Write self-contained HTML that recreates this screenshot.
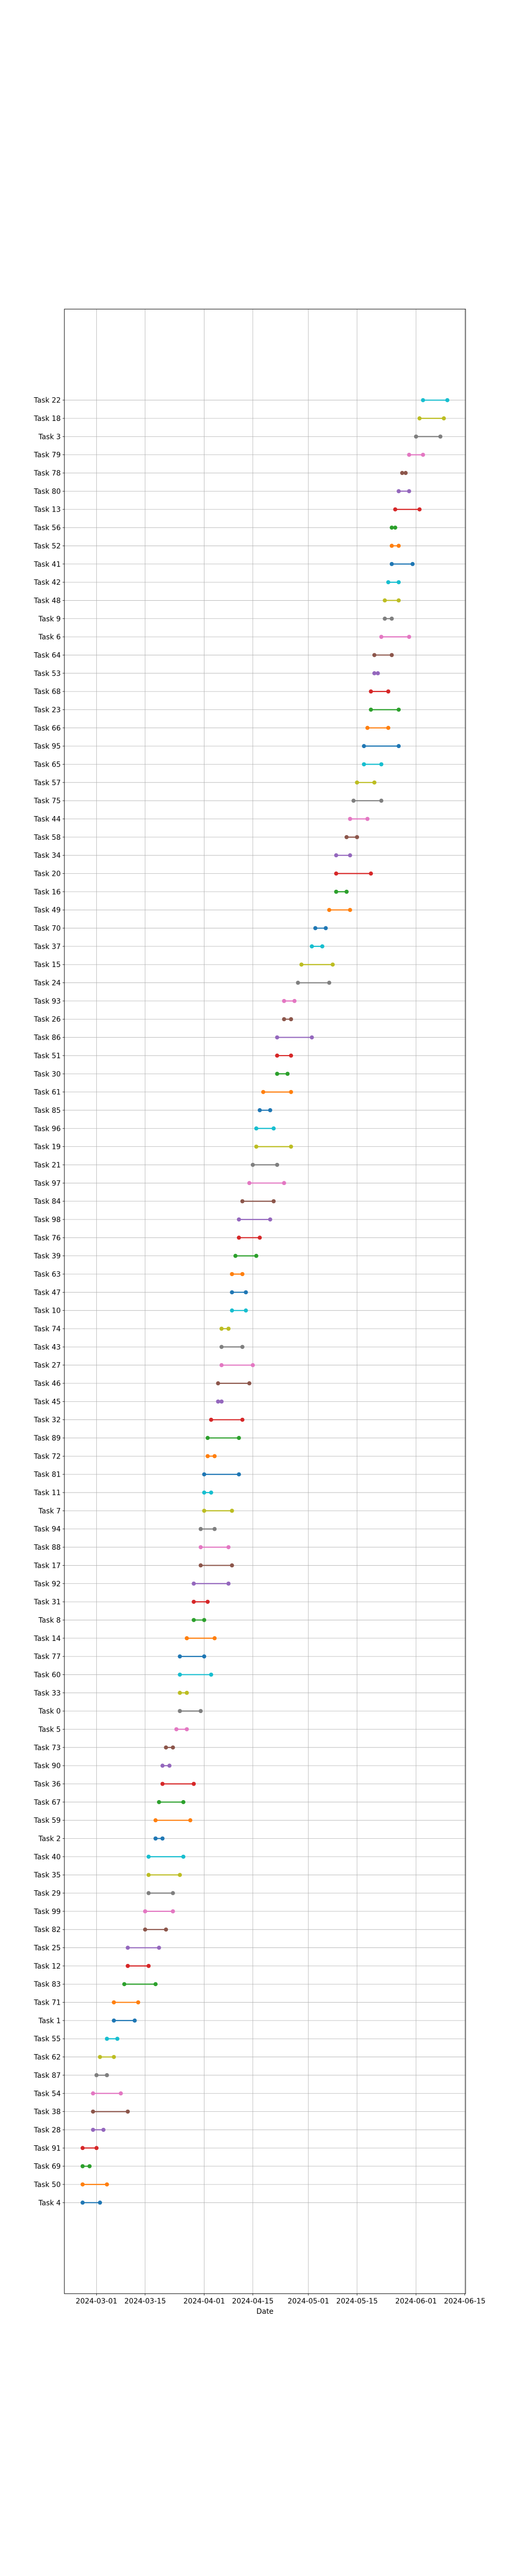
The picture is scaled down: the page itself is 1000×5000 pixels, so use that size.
<!DOCTYPE html>
<html>
<head>
<meta charset="utf-8">
<style>
html,body{margin:0;padding:0;background:#fff;}
svg{display:block;}
text{font-family:"DejaVu Sans","Liberation Sans",sans-serif;font-size:13.9px;fill:#000;}
</style>
</head>
<body>
<svg id="chart" width="1000" height="5000" viewBox="0 0 1000 5000"></svg>
<script>
const taskNames = ["Task 4","Task 50","Task 69","Task 91","Task 28","Task 38","Task 54","Task 87","Task 62","Task 55","Task 1","Task 71","Task 83","Task 12","Task 25","Task 82","Task 99","Task 29","Task 35","Task 40","Task 2","Task 59","Task 67","Task 36","Task 90","Task 73","Task 5","Task 0","Task 33","Task 60","Task 77","Task 14","Task 8","Task 31","Task 92","Task 17","Task 88","Task 94","Task 7","Task 11","Task 81","Task 72","Task 89","Task 32","Task 45","Task 46","Task 27","Task 43","Task 74","Task 10","Task 47","Task 63","Task 39","Task 76","Task 98","Task 84","Task 97","Task 21","Task 19","Task 96","Task 85","Task 61","Task 30","Task 51","Task 86","Task 26","Task 93","Task 24","Task 15","Task 37","Task 70","Task 49","Task 16","Task 20","Task 34","Task 58","Task 44","Task 75","Task 57","Task 65","Task 95","Task 66","Task 23","Task 68","Task 53","Task 64","Task 6","Task 9","Task 48","Task 42","Task 41","Task 52","Task 56","Task 13","Task 80","Task 78","Task 79","Task 3","Task 18","Task 22"];
const startDates = ["2024-02-26","2024-02-26","2024-02-26","2024-02-26","2024-02-29","2024-02-29","2024-02-29","2024-03-01","2024-03-02","2024-03-04","2024-03-06","2024-03-06","2024-03-09","2024-03-10","2024-03-10","2024-03-15","2024-03-15","2024-03-16","2024-03-16","2024-03-16","2024-03-18","2024-03-18","2024-03-19","2024-03-20","2024-03-20","2024-03-21","2024-03-24","2024-03-25","2024-03-25","2024-03-25","2024-03-25","2024-03-27","2024-03-29","2024-03-29","2024-03-29","2024-03-31","2024-03-31","2024-03-31","2024-04-01","2024-04-01","2024-04-01","2024-04-02","2024-04-02","2024-04-03","2024-04-05","2024-04-05","2024-04-06","2024-04-06","2024-04-06","2024-04-09","2024-04-09","2024-04-09","2024-04-10","2024-04-11","2024-04-11","2024-04-12","2024-04-14","2024-04-15","2024-04-16","2024-04-16","2024-04-17","2024-04-18","2024-04-22","2024-04-22","2024-04-22","2024-04-24","2024-04-24","2024-04-28","2024-04-29","2024-05-02","2024-05-03","2024-05-07","2024-05-09","2024-05-09","2024-05-09","2024-05-12","2024-05-13","2024-05-14","2024-05-15","2024-05-17","2024-05-17","2024-05-18","2024-05-19","2024-05-19","2024-05-20","2024-05-20","2024-05-22","2024-05-23","2024-05-23","2024-05-24","2024-05-25","2024-05-25","2024-05-25","2024-05-26","2024-05-27","2024-05-28","2024-05-30","2024-06-01","2024-06-02","2024-06-03"];
const endDates = ["2024-03-02","2024-03-04","2024-02-28","2024-03-01","2024-03-03","2024-03-10","2024-03-08","2024-03-04","2024-03-06","2024-03-07","2024-03-12","2024-03-13","2024-03-18","2024-03-16","2024-03-19","2024-03-21","2024-03-23","2024-03-23","2024-03-25","2024-03-26","2024-03-20","2024-03-28","2024-03-26","2024-03-29","2024-03-22","2024-03-23","2024-03-27","2024-03-31","2024-03-27","2024-04-03","2024-04-01","2024-04-04","2024-04-01","2024-04-02","2024-04-08","2024-04-09","2024-04-08","2024-04-04","2024-04-09","2024-04-03","2024-04-11","2024-04-04","2024-04-11","2024-04-12","2024-04-06","2024-04-14","2024-04-15","2024-04-12","2024-04-08","2024-04-13","2024-04-13","2024-04-12","2024-04-16","2024-04-17","2024-04-20","2024-04-21","2024-04-24","2024-04-22","2024-04-26","2024-04-21","2024-04-20","2024-04-26","2024-04-25","2024-04-26","2024-05-02","2024-04-26","2024-04-27","2024-05-07","2024-05-08","2024-05-05","2024-05-06","2024-05-13","2024-05-12","2024-05-19","2024-05-13","2024-05-15","2024-05-18","2024-05-22","2024-05-20","2024-05-22","2024-05-27","2024-05-24","2024-05-27","2024-05-24","2024-05-21","2024-05-25","2024-05-30","2024-05-25","2024-05-27","2024-05-27","2024-05-31","2024-05-27","2024-05-26","2024-06-02","2024-05-30","2024-05-29","2024-06-03","2024-06-08","2024-06-09","2024-06-10"];
const xTickLabels = ["2024-03-01","2024-03-15","2024-04-01","2024-04-15","2024-05-01","2024-05-15","2024-06-01","2024-06-15"];
const palette = ["#1f77b4","#ff7f0e","#2ca02c","#d62728","#9467bd","#8c564b","#e377c2","#7f7f7f","#bcbd22","#17becf"];

const NS = "http://www.w3.org/2000/svg";
const svg = document.getElementById("chart");
const L = 125, R = 904, T = 600, B = 4452;
const DAY = 86400000;
function toDay(s){ const p = s.split("-").map(Number); return Date.UTC(p[0], p[1]-1, p[2]) / DAY; }
const allDays = startDates.map(toDay).concat(endDates.map(toDay));
const dmin = Math.min.apply(null, allDays), dmax = Math.max.apply(null, allDays);
const span = dmax - dmin;
const x0 = dmin - 0.05*span, x1 = dmax + 0.05*span;
function xScale(s){ return L + (toDay(s) - x0) / (x1 - x0) * (R - L); }
const yMin = -5, yMax = taskNames.length + 4;
function yScale(i){ return B - (i - yMin) / (yMax - yMin) * (B - T); }
function el(tag, attrs, parent){ const e = document.createElementNS(NS, tag); for (const k in attrs) e.setAttribute(k, attrs[k]); (parent||svg).appendChild(e); return e; }

const gridG = el("g", {});


xTickLabels.forEach(function(t){
  const x = xScale(t);
  const g = el("line", {x1:x, x2:x, y1:T, y2:B, stroke:"#b0b0b0", "stroke-width":0.8}, gridG);
  
  
  const tk = el("line", {x1:x, x2:x, y1:B, y2:B+3.5, stroke:"#000", "stroke-width":0.8});
  
  
  const lb = el("text", {x:x, y:B+19, "text-anchor":"middle"});
  lb.textContent = t;
  
  
});
taskNames.forEach(function(n, i){
  const y = yScale(i);
  const g = el("line", {x1:L, x2:R, y1:y, y2:y, stroke:"#b0b0b0", "stroke-width":0.8}, gridG);
  
  
  const tk = el("line", {x1:L-3.5, x2:L, y1:y, y2:y, stroke:"#000", "stroke-width":0.8});
  
  
  const lb = el("text", {x:L-7, y:y+5, "text-anchor":"end"});
  lb.textContent = n;
  
  
});

taskNames.forEach(function(n, i){
  const y = yScale(i), c = palette[i % 10];
  const xs = xScale(startDates[i]), xe = xScale(endDates[i]);
  const g = el("g", {});
  
  
  el("line", {x1:xs, x2:xe, y1:y, y2:y, stroke:c, "stroke-width":2.2}, g);
  const m1 = el("circle", {cx:xs, cy:y, r:4, fill:c}, g);
  
  
  const m2 = el("circle", {cx:xe, cy:y, r:4, fill:c}, g);
  
  
});

const frame = el("rect", {x:L, y:T, width:R-L, height:B-T, fill:"none", stroke:"#000", "stroke-width":1});


const xt = el("text", {x:(L+R)/2, y:B+39, "text-anchor":"middle"});
xt.textContent = "Date";


</script>
</body>
</html>
